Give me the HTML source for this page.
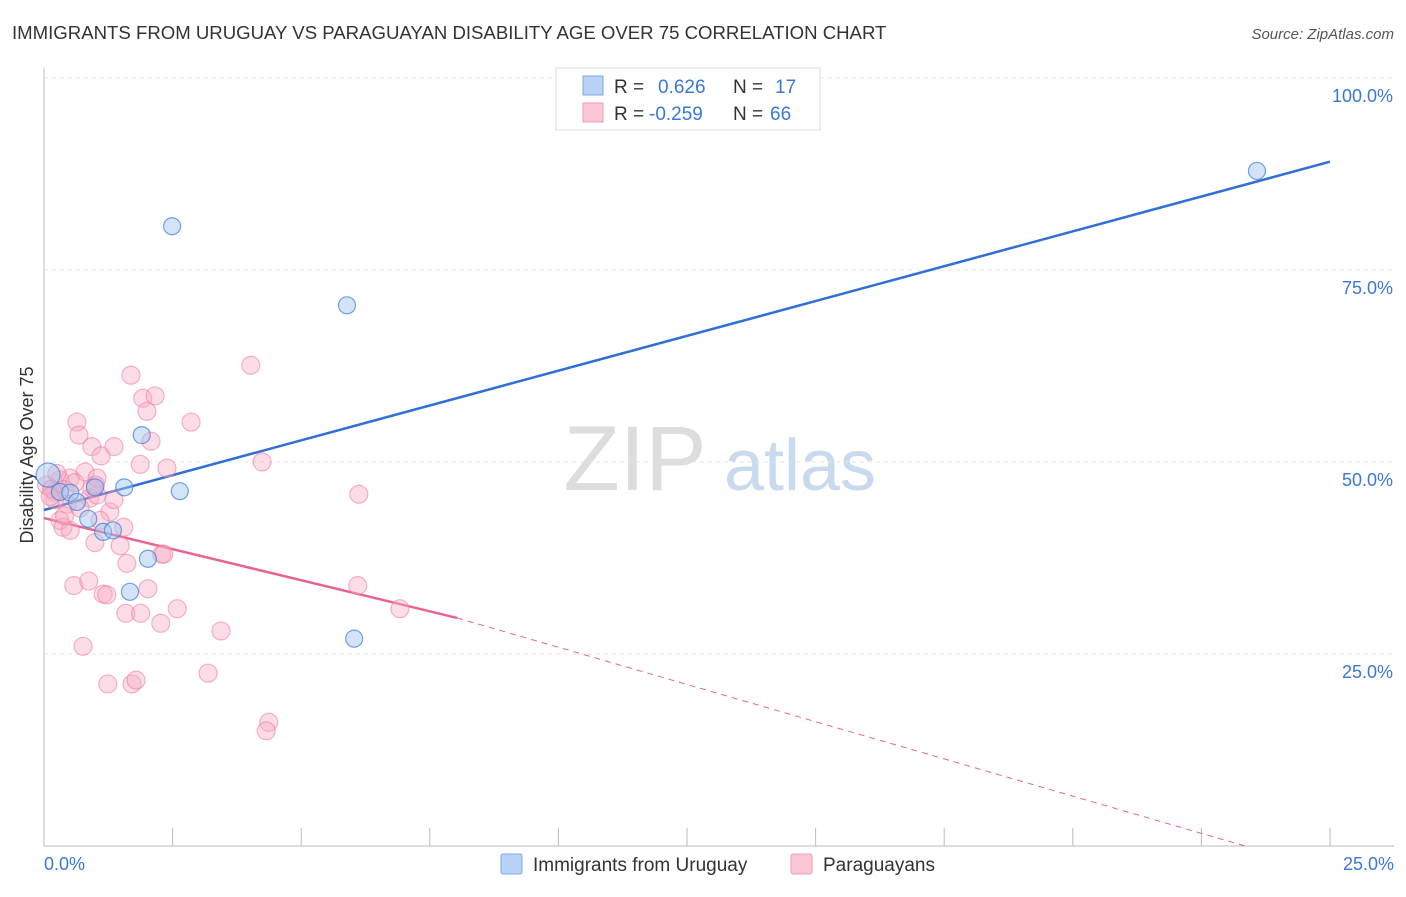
<!DOCTYPE html>
<html><head><meta charset="utf-8"><style>
body{margin:0;background:#fff;font-family:"Liberation Sans",sans-serif;}
svg text{font-family:"Liberation Sans",sans-serif;}
</style></head><body>
<svg id="chart" width="1406" height="892" xmlns="http://www.w3.org/2000/svg">
<text x="12" y="39" font-size="18.6" fill="#333">IMMIGRANTS FROM URUGUAY VS PARAGUAYAN DISABILITY AGE OVER 75 CORRELATION CHART</text>
<text x="1394" y="39" font-size="15" fill="#555" font-style="italic" text-anchor="end">Source: ZipAtlas.com</text>
<g>
<text x="635" y="490" font-size="92" fill="#ddd" font-family="Liberation Serif" text-anchor="middle">ZIP</text>
<text x="800" y="490" font-size="72" fill="#c9d9ee" text-anchor="middle">atlas</text>
</g>
<g id="grid"></g>
<line x1="44" y1="68" x2="44" y2="846" stroke="#bbb"/>
<line x1="44" y1="846" x2="1394" y2="846" stroke="#bbb"/>
<text x="33" y="455" font-size="18" fill="#333" text-anchor="middle" transform="rotate(-90 33 455)">Disability Age Over 75</text>
<text x="44" y="870" font-size="18" fill="#3a78d4">0.0%</text>
<text x="1394" y="870" font-size="18" fill="#3a78d4" text-anchor="end">25.0%</text>
<g id="lines"></g>
<g id="points"></g>
<g>
<rect x="556" y="68" width="264" height="62" fill="#fff" stroke="#ddd"/>
<rect x="583" y="76" width="20" height="19" fill="#b8d3f5" stroke="#7aa7e6"/>
<rect x="583" y="103" width="20" height="19" fill="#fbc6d5" stroke="#f09ab3"/>
<text x="614" y="93" font-size="19" fill="#333">R = </text><text x="658" y="93" font-size="19" fill="#3a78d4">0.626</text>
<text x="733" y="93" font-size="19" fill="#333">N = </text><text x="775" y="93" font-size="19" fill="#3a78d4">17</text>
<text x="614" y="120" font-size="19" fill="#333">R = </text><text x="649" y="120" font-size="19" fill="#3a78d4">-0.259</text>
<text x="733" y="120" font-size="19" fill="#333">N = </text><text x="770" y="120" font-size="19" fill="#3a78d4">66</text>
</g>
<g>
<rect x="501" y="854" width="21" height="20" fill="#b8d3f5" stroke="#7aa7e6" rx="2"/>
<text x="533" y="871" font-size="19" fill="#333">Immigrants from Uruguay</text>
<rect x="791" y="854" width="21" height="20" fill="#fbc6d5" stroke="#f09ab3" rx="2"/>
<text x="823" y="871" font-size="19" fill="#333">Paraguayans</text>
</g>
</svg>
<script>
const yTicks=[25,50,75,100];
const yTickLabels=["25.0%","50.0%","75.0%","100.0%"];
const xTicks=[0,2.5,5,7.5,10,12.5,15,17.5,20,22.5,25];
const blueX=[2.49,5.89,23.58,1.90,1.56,2.64,0.86,1.15,1.34,2.02,1.67,6.03,0.08,0.31,0.99,0.51,0.64];
const blueY=[80.7,70.4,87.9,53.5,46.7,46.2,42.6,40.9,41.1,37.4,33.1,27.0,48.3,46.1,46.7,46.0,44.8];
const pinkX=[4.02,1.69,1.92,2.16,2.00,2.86,0.64,0.68,0.93,1.36,1.11,2.08,1.87,2.39,4.24,6.12,6.10,6.92,2.29,2.33,1.48,1.61,1.55,0.99,0.58,0.87,1.15,1.22,2.02,2.59,1.59,1.88,2.27,0.76,3.44,3.19,1.24,1.71,1.79,4.37,4.32,0.31,0.51,0.80,1.03,0.21,0.41,0.89,1.03,0.31,0.37,0.51,1.28,1.09,0.21,0.60,0.93,1.36,0.05,0.15,0.45,0.70,0.25,0.12,0.40,1.0];
const pinkY=[62.6,61.3,58.3,58.6,56.6,55.2,55.2,53.5,52.0,52.0,50.8,52.7,49.7,49.2,50.0,45.8,33.9,30.9,38.0,38.0,39.1,36.8,41.5,39.5,33.9,34.5,32.8,32.7,33.5,30.9,30.3,30.3,29.0,26.0,28.0,22.5,21.1,21.1,21.6,16.1,15.0,47.7,47.9,48.7,47.9,46.1,46.4,45.3,45.7,42.4,41.5,41.1,43.5,42.4,45.1,47.3,46.6,45.1,47.0,46.5,44.5,44.0,48.5,45.5,43.0,47.0];
const blueTrend=[[0,43.75],[25,89.1]];
const pinkTrend=[[0,42.7],[8.03,29.7],[23.35,0]];
const X=v=>44+v/25*1286, Y=v=>846-v/100*768;
const NS="http://www.w3.org/2000/svg";
function mk(t,a,p){const e=document.createElementNS(NS,t);for(const k in a)e.setAttribute(k,a[k]);p.appendChild(e);return e;}
const grid=document.getElementById('grid');
yTicks.forEach((t,i)=>{
 const l=mk('line',{x1:44,x2:1394,y1:Y(t),y2:Y(t),stroke:'#e4e4e4','stroke-dasharray':'4,4'},grid);
 
 
 const tx=mk('text',{x:1393,y:Y(t)+24,'font-size':18,fill:'#3a78d4','text-anchor':'end'},grid);
 tx.textContent=yTickLabels[i];
 
 
});
xTicks.forEach(t=>{
 const l=mk('line',{x1:X(t),x2:X(t),y1:828,y2:846,stroke:'#bbb'},grid);
 
 
});
const pts=document.getElementById('points');
pinkX.forEach((x,i)=>{
 const c=mk('circle',{cx:X(x),cy:Y(pinkY[i]),r:9,fill:'rgba(248,170,195,0.4)',stroke:'rgba(236,120,155,0.55)','stroke-width':1.2},pts);
 
 
});
blueX.forEach((x,i)=>{
 const c=mk('circle',{cx:X(x),cy:Y(blueY[i]),r:i==12?12:8.5,fill:'rgba(160,195,240,0.45)',stroke:'rgba(70,130,220,0.75)','stroke-width':1.2},pts);
 
 
});
const ln=document.getElementById('lines');
const b=mk('line',{x1:X(blueTrend[0][0]),y1:Y(blueTrend[0][1]),x2:X(blueTrend[1][0]),y2:Y(blueTrend[1][1]),stroke:'#2f6fd6','stroke-width':2.5},ln);


const p1=mk('line',{x1:X(pinkTrend[0][0]),y1:Y(pinkTrend[0][1]),x2:X(pinkTrend[1][0]),y2:Y(pinkTrend[1][1]),stroke:'#e8648f','stroke-width':2.5},ln);


const p2=mk('line',{x1:X(pinkTrend[1][0]),y1:Y(pinkTrend[1][1]),x2:X(pinkTrend[2][0]),y2:Y(pinkTrend[2][1]),stroke:'#e8648f','stroke-width':1,'stroke-dasharray':'6,5'},ln);


</script>
</body></html>
